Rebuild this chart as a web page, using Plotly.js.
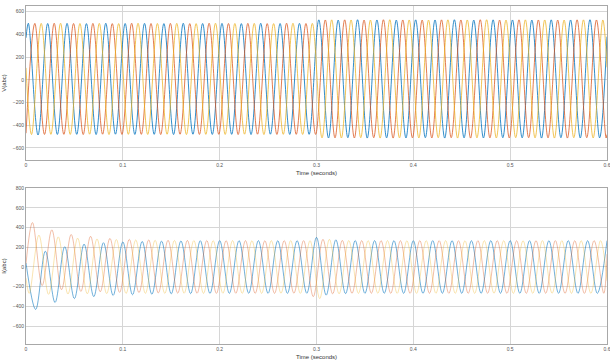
<!DOCTYPE html>
<html>
<head>
<meta charset="utf-8">
<script src="https://cdn.plot.ly/plotly-3.0.1.min.js"></script>
<style>html,body{margin:0;padding:0;background:#fff;}#chart{width:610px;height:364px;}</style>
</head>
<body>
<div id="chart"></div>
<script>
// ---- data ----
var halfPeriod = 0.01;      // 50 Hz, extremes every 10 ms
var tEnd = 0.6;

// Top plot: V(abc) - successive extremes (peak / trough), one every half period
var vaFirstT = 0.0024, vaStart = 370, vaEnd = 380;
var vaExt = [498,-486,496,-481,497,-480,495,-482,498,-479,496,-481,497,-480,495,-482,498,-479,496,-481,
             497,-480,495,-482,498,-479,496,-481,497,-480,
             528,-512,526,-510,529,-513,527,-511,526,-512,528,-510,527,-513,529,-511,526,-512,528,-510,
             527,-511,526,-513,528,-510,527,-512,529,-511];
var vbFirstT = 0.0091, vbStart = -470, vbEnd = -482;
var vbExt = [497,-481,498,-480,496,-482,497,-479,495,-481,498,-480,496,-482,497,-479,495,-481,498,-480,
             496,-482,497,-479,495,-481,498,-480,496,-481,
             527,-511,528,-512,526,-510,529,-513,527,-511,526,-512,528,-510,527,-513,529,-511,526,-512,
             528,-510,527,-511,526,-513,528,-510,527,-512];
var vcFirstT = 0.0057, vcStart = 105, vcEnd = 110;
var vcExt = [-482,497,-480,498,-481,496,-479,497,-482,495,-480,498,-481,496,-479,497,-482,495,-480,498,
             -481,496,-479,497,-482,495,-480,498,-481,497,
             -511,528,-512,527,-510,526,-513,529,-511,527,-512,526,-510,528,-513,527,-511,529,-512,526,
             -510,528,-511,527,-513,526,-510,528,-512,527];

// Bottom plot: I(abc)
var iaFirstT = 0.01, iaStart = 40;
var iaExt = [-430,160,-360,205,-320,232,-300,246,-288,254,-281,259,-276,262,-272,264,-270,266,-268,267,
             -267,267,-266,267,-267,266,-267,267,-266,300,
             -285,275,-270,268,-267,267,-266,267,-267,266,-267,267,-266,267,-267,266,-267,267,-266,267,
             -267,266,-267,267,-266,267,-267,266,-267,267];
var ibFirstT = 0.00667, ibStart = 33, ibEnd = 130;
var ibExt = [450,-188,376,-230,329,-247,311,-251,290,-257,280,-260,274,-263,271,-265,269,-266,268,-267,
             267,-266,267,-267,266,-267,267,-266,267,-300,
             280,-272,269,-267,267,-266,267,-267,266,-267,267,-266,267,-267,266,-267,267,-266,267,-267,
             266,-267,267,-266,267,-267,266,-267,267,-266];
var icFirstT = 0.00333, icStart = -113, icEnd = -140;
var icExt = [-267,323,-277,305,-274,292,-271,284,-269,278,-268,274,-267,271,-267,269,-266,268,-267,267,
             -266,267,-267,266,-267,267,-266,267,-267,266,
             -320,280,-272,268,-267,267,-266,267,-267,266,-267,267,-266,267,-267,266,-267,267,-266,267,
             -267,266,-267,267,-266,267,-267,266,-267,267];

var xTicks = [0, 0.1, 0.2, 0.3, 0.4, 0.5, 0.6];
var xTickText = ['0', '0.1', '0.2', '0.3', '0.4', '0.5', '0.6'];
var vTicks = [-600, -400, -200, 0, 200, 400, 600];
var iTicks = [-800, -600, -400, -200, 0, 200, 400, 600, 800];

var colors = ['#0072BD', '#D95319', '#EDB120'];

function wave(firstT, start, ext, end, color, xa, ya, w, op) {
  var x = [0], y = [start];
  for (var k = 0; k < ext.length; k++) {
    var t = firstT + k * halfPeriod;
    if (t > tEnd + 1e-9) break;
    x.push(t); y.push(ext[k]);
  }
  if (end !== undefined && x[x.length - 1] < tEnd - 1e-6) { x.push(tEnd); y.push(end); }
  return {x: x, y: y, type: 'scatter', mode: 'lines', xaxis: xa, yaxis: ya, opacity: op,
          line: {color: color, width: w, shape: 'spline', smoothing: 1}, hoverinfo: 'skip', showlegend: false};
}

var traces = [
  wave(vaFirstT, vaStart, vaExt, vaEnd, colors[0], 'x', 'y', 0.9, 0.9),
  wave(vbFirstT, vbStart, vbExt, vbEnd, colors[1], 'x', 'y', 0.9, 0.85),
  wave(vcFirstT, vcStart, vcExt, vcEnd, colors[2], 'x', 'y', 0.9, 0.85),
  wave(iaFirstT, iaStart, iaExt, undefined, colors[0], 'x2', 'y2', 0.75, 0.75),
  wave(ibFirstT, ibStart, ibExt, ibEnd, colors[1], 'x2', 'y2', 0.7, 0.55),
  wave(icFirstT, icStart, icExt, icEnd, colors[2], 'x2', 'y2', 0.7, 0.5)
];

var tickFont = {family: 'Liberation Sans, Arial, sans-serif', size: 5, color: '#555'};
var titleFont = {family: 'Liberation Sans, Arial, sans-serif', size: 6, color: '#333'};

function xAxis(domainAnchor) {
  return {domain: [0, 1], anchor: domainAnchor, range: [0, 0.6], tickvals: xTicks, ticktext: xTickText,
          showgrid: true, gridcolor: '#d6d6d6', gridwidth: 1, zeroline: false,
          showline: true, mirror: true, linecolor: '#a8a8a8', linewidth: 1,
          ticks: '', ticklabeloverflow: 'allow', tickfont: tickFont,
          title: {text: 'Time (seconds)', font: titleFont, standoff: 3}};
}
function yAxis(domain, range, ticks, anchor, title) {
  return {domain: domain, anchor: anchor, range: range, tickvals: ticks,
          showgrid: true, gridcolor: '#d6d6d6', gridwidth: 1, zeroline: false,
          showline: true, mirror: true, linecolor: '#a8a8a8', linewidth: 1,
          ticks: '', tickfont: tickFont, title: {text: title, font: titleFont, standoff: 5}};
}

var layout = {
  width: 610, height: 364,
  margin: {l: 26, r: 3, t: 6, b: 20},
  paper_bgcolor: '#ffffff', plot_bgcolor: '#ffffff',
  xaxis: xAxis('y'),
  yaxis: yAxis([0.5444, 1], [-706, 650], vTicks, 'x', 'V(abc)'),
  xaxis2: xAxis('y2'),
  yaxis2: yAxis([0, 0.4615], [-780, 800], iTicks, 'x2', 'I(abc)'),
  showlegend: false
};

Plotly.newPlot('chart', traces, layout, {staticPlot: true, displayModeBar: false});
</script>
</body>
</html>
